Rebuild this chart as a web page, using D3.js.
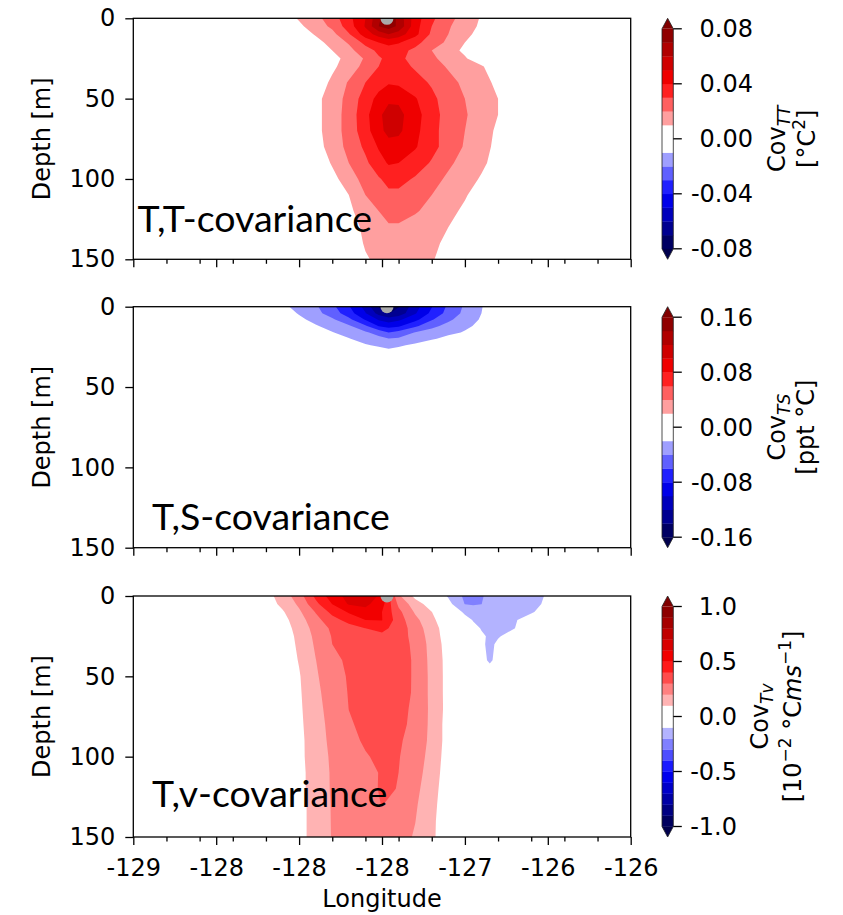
<!DOCTYPE html>
<html>
<head>
<meta charset="utf-8">
<script src="https://cdn.jsdelivr.net/npm/d3@7"></script>
<style>
  body { margin: 0; background: #ffffff; }
  svg { display: block; }
  text { white-space: pre; }
</style>
</head>
<body>
<svg id="fig" width="843" height="915"></svg>
<script>
// ---------------- data ----------------
const xTickValues = [-129, -128.5, -128, -127.5, -127, -126.5, -126];
const xTickLabels = ["-129", "-128", "-128", "-128", "-127", "-126", "-126"];
const xMinorTicks = [-128.8, -128.6, -128.4, -128.2, -127.8, -127.6, -127.4, -127.2, -126.8, -126.6, -126.4, -126.2];
const yTickValues = [0, 50, 100, 150];
const stationLon = -127.47;

// T,T covariance [°C^2] on a longitude x depth grid
const ttLon = [-128.3, -128.1, -128.0, -127.9, -127.8, -127.7, -127.6, -127.52, -127.46, -127.4, -127.3, -127.2, -127.1, -127.0, -126.9, -126.8, -126.7, -126.5];
const ttDepth = [0, 5, 10, 15, 20, 25, 30, 40, 50, 60, 70, 80, 90, 100, 110, 120, 130, 140, 150];
const ttValues = [
  [0, .005, .011, .017, .025, .037, .050, .068, .078, .067, .045, .032, .023, .016, .009, .003, 0, 0],
  [0, .002, .008, .015, .022, .035, .051, .070, .075, .068, .044, .030, .021, .015, .008, .002, 0, 0],
  [0, 0, .004, .011, .017, .029, .045, .054, .060, .055, .043, .028, .020, .013, .006, 0, 0, 0],
  [0, 0, 0, .006, .014, .021, .033, .040, .043, .041, .033, .025, .018, .010, .003, 0, 0, 0],
  [0, 0, 0, .003, .010, .017, .026, .032, .035, .033, .028, .020, .014, .008, .001, 0, 0, 0],
  [0, 0, 0, 0, .006, .014, .021, .029, .032, .032, .027, .022, .016, .011, .004, 0, 0, 0],
  [0, 0, 0, 0, .008, .015, .023, .030, .034, .033, .029, .024, .019, .015, .011, .004, 0, 0],
  [0, 0, 0, .004, .012, .021, .030, .036, .039, .038, .033, .029, .023, .018, .013, .008, .001, 0],
  [0, 0, 0, .007, .015, .023, .035, .043, .048, .048, .041, .032, .026, .020, .015, .010, .002, 0],
  [0, 0, 0, .007, .015, .024, .037, .048, .054, .053, .044, .034, .026, .021, .015, .010, .002, 0],
  [0, 0, 0, .007, .015, .024, .036, .047, .053, .052, .043, .033, .026, .020, .015, .008, .001, 0],
  [0, 0, 0, .006, .014, .023, .032, .041, .046, .046, .041, .033, .026, .019, .014, .007, 0, 0],
  [0, 0, 0, .003, .011, .020, .028, .036, .041, .040, .035, .029, .022, .016, .012, .006, 0, 0],
  [0, 0, 0, 0, .007, .015, .024, .029, .033, .033, .029, .024, .018, .014, .009, .002, 0, 0],
  [0, 0, 0, 0, .003, .010, .020, .024, .028, .028, .024, .020, .016, .011, .005, 0, 0, 0],
  [0, 0, 0, 0, .001, .008, .015, .020, .023, .023, .021, .017, .013, .008, .001, 0, 0, 0],
  [0, 0, 0, 0, 0, .006, .012, .016, .019, .019, .016, .013, .010, .004, 0, 0, 0, 0],
  [0, 0, 0, 0, 0, .004, .011, .013, .015, .016, .014, .012, .008, .001, 0, 0, 0, 0],
  [0, 0, 0, 0, 0, .002, .009, .012, .013, .014, .012, .011, .005, 0, 0, 0, 0, 0]
];
const ttLevels = [-0.08, -0.07, -0.06, -0.05, -0.04, -0.03, -0.02, -0.01, 0.01, 0.02, 0.03, 0.04, 0.05, 0.06, 0.07, 0.08];
const ttCbTicks = [0.08, 0.04, 0, -0.04, -0.08];
const ttCbLabels = ["0.08", "0.04", "0.00", "-0.04", "-0.08"];

// T,S covariance [ppt °C]
const tsLon = [-128.3, -128.1, -128.0, -127.9, -127.8, -127.7, -127.6, -127.52, -127.46, -127.4, -127.3, -127.2, -127.1, -127.0, -126.9, -126.8, -126.7, -126.5];
const tsDepth = [0, 4, 8, 12, 16, 20, 24, 28, 35, 150];
const tsValues = [
  [0, -.015, -.027, -.037, -.055, -.078, -.107, -.141, -.148, -.141, -.108, -.081, -.056, -.037, -.021, -.006, 0, 0],
  [0, -.008, -.022, -.034, -.049, -.071, -.099, -.127, -.141, -.133, -.102, -.075, -.053, -.035, -.020, -.005, 0, 0],
  [0, 0, -.015, -.027, -.037, -.055, -.082, -.102, -.110, -.104, -.086, -.062, -.044, -.030, -.018, -.003, 0, 0],
  [0, 0, -.004, -.018, -.028, -.037, -.057, -.081, -.088, -.083, -.064, -.045, -.034, -.025, -.014, 0, 0, 0],
  [0, 0, 0, -.005, -.019, -.028, -.037, -.048, -.060, -.054, -.039, -.032, -.026, -.018, -.003, 0, 0, 0],
  [0, 0, 0, 0, -.005, -.019, -.028, -.034, -.039, -.037, -.030, -.023, -.013, 0, 0, 0, 0, 0],
  [0, 0, 0, 0, 0, -.003, -.018, -.023, -.026, -.023, -.016, -.001, 0, 0, 0, 0, 0, 0],
  [0, 0, 0, 0, 0, 0, -.005, -.011, -.015, -.012, -.005, 0, 0, 0, 0, 0, 0, 0],
  [0, 0, 0, 0, 0, 0, 0, 0, 0, 0, 0, 0, 0, 0, 0, 0, 0, 0],
  [0, 0, 0, 0, 0, 0, 0, 0, 0, 0, 0, 0, 0, 0, 0, 0, 0, 0]
];
const tsLevels = [-0.16, -0.14, -0.12, -0.10, -0.08, -0.06, -0.04, -0.02, 0.02, 0.04, 0.06, 0.08, 0.10, 0.12, 0.14, 0.16];
const tsCbTicks = [0.16, 0.08, 0, -0.08, -0.16];
const tsCbLabels = ["0.16", "0.08", "0.00", "-0.08", "-0.16"];

// T,v covariance [10^-2 °C m s^-1]
const tvLon = [-128.4, -128.2, -128.1, -128.0, -127.9, -127.8, -127.7, -127.6, -127.5, -127.4, -127.3, -127.2, -127.1, -127.0, -126.95, -126.9, -126.85, -126.8, -126.7, -126.6, -126.5, -126.4];
const tvDepth = [0, 5, 10, 15, 20, 25, 30, 40, 50, 60, 70, 80, 90, 100, 110, 120, 130, 140, 150];
const tvValues = [
  [0, .061, .144, .255, .423, .549, .635, .658, .575, .218, .074, -.010, -.110, -.220, -.245, -.207, -.180, -.155, -.135, -.120, -.094, 0],
  [0, .048, .124, .218, .374, .502, .610, .626, .536, .280, .146, .052, -.069, -.203, -.209, -.201, -.169, -.147, -.134, -.120, -.087, 0],
  [0, .017, .089, .183, .306, .429, .511, .560, .500, .328, .188, .102, -.022, -.116, -.144, -.157, -.149, -.142, -.128, -.112, -.048, 0],
  [0, 0, .067, .154, .267, .362, .435, .500, .503, .349, .226, .128, .013, -.066, -.105, -.117, -.130, -.126, -.112, -.039, 0, 0],
  [0, 0, .054, .136, .238, .318, .360, .401, .428, .357, .253, .144, .045, -.019, -.075, -.105, -.114, -.117, -.102, -.005, 0, 0],
  [0, 0, .046, .124, .223, .306, .329, .353, .376, .340, .271, .152, .051, 0, -.035, -.090, -.109, -.110, -.049, 0, 0, 0],
  [0, 0, .041, .118, .214, .300, .322, .344, .366, .336, .282, .161, .058, 0, -.009, -.080, -.125, -.080, 0, 0, 0, 0],
  [0, 0, .033, .106, .198, .278, .315, .336, .356, .332, .290, .167, .065, 0, 0, -.060, -.120, -.060, 0, 0, 0, 0],
  [0, 0, .020, .092, .187, .260, .309, .330, .351, .329, .291, .171, .065, 0, 0, 0, -.020, 0, 0, 0, 0, 0],
  [0, 0, .015, .087, .176, .249, .305, .326, .346, .327, .291, .171, .065, 0, 0, 0, 0, 0, 0, 0, 0, 0],
  [0, 0, .011, .083, .167, .240, .301, .321, .341, .323, .285, .175, .065, 0, 0, 0, 0, 0, 0, 0, 0, 0],
  [0, 0, .007, .079, .159, .231, .292, .317, .337, .320, .280, .174, .058, 0, 0, 0, 0, 0, 0, 0, 0, 0],
  [0, 0, .002, .074, .154, .224, .279, .310, .327, .312, .264, .174, .058, 0, 0, 0, 0, 0, 0, 0, 0, 0],
  [0, 0, 0, .074, .151, .215, .254, .294, .316, .305, .249, .166, .051, 0, 0, 0, 0, 0, 0, 0, 0, 0],
  [0, 0, 0, .070, .146, .211, .245, .280, .306, .300, .238, .155, .045, 0, 0, 0, 0, 0, 0, 0, 0, 0],
  [0, 0, 0, .070, .146, .210, .240, .271, .310, .298, .225, .143, .038, 0, 0, 0, 0, 0, 0, 0, 0, 0],
  [0, 0, 0, .066, .141, .207, .234, .261, .303, .265, .212, .133, .031, 0, 0, 0, 0, 0, 0, 0, 0, 0],
  [0, 0, 0, .066, .141, .206, .229, .253, .276, .245, .202, .125, .025, 0, 0, 0, 0, 0, 0, 0, 0, 0],
  [0, 0, 0, .066, .141, .205, .226, .246, .266, .236, .191, .122, .025, 0, 0, 0, 0, 0, 0, 0, 0, 0]
];
const tvLevels = [-1.0, -0.9, -0.8, -0.7, -0.6, -0.5, -0.4, -0.3, -0.2, -0.1, 0.1, 0.2, 0.3, 0.4, 0.5, 0.6, 0.7, 0.8, 0.9, 1.0];
const tvCbTicks = [1.0, 0.5, 0, -0.5, -1.0];
const tvCbLabels = ["1.0", "0.5", "0.0", "-0.5", "-1.0"];

// ---------------- layout ----------------
const NUM_FONT = "'DejaVu Sans', sans-serif";
const TITLE_FONT = "Lato, 'Open Sans', sans-serif";
const plotLeft = 133.3, plotRight = 630.7, plotH = 241;
const panelTops = [18.3, 306.7, 596];
const cbX = 662, cbW = 11.3;

const panels = [
  { lon: ttLon, depth: ttDepth, values: ttValues, levels: ttLevels,
    cbTicks: ttCbTicks, cbLabels: ttCbLabels, cbLabelEnd: 753,
    title: "T,T-covariance", titleX: 137.5, titleY: 231.5,
    sub: "TT", lab1X: 784.5, lab2X: 815,
    unit: [{ t: "[°C" }, { t: "2", sup: true }, { t: "]" }] },
  { lon: tsLon, depth: tsDepth, values: tsValues, levels: tsLevels,
    cbTicks: tsCbTicks, cbLabels: tsCbLabels, cbLabelEnd: 753,
    title: "T,S-covariance", titleX: 152, titleY: 530,
    sub: "TS", lab1X: 784.5, lab2X: 814,
    unit: [{ t: "[ppt °C]" }] },
  { lon: tvLon, depth: tvDepth, values: tvValues, levels: tvLevels,
    cbTicks: tvCbTicks, cbLabels: tvCbLabels, cbLabelEnd: 737,
    title: "T,v-covariance", titleX: 152, titleY: 806.5,
    sub: "Tv", lab1X: 768, lab2X: 801,
    unit: [{ t: "[10" }, { t: "\u22122", sup: true }, { t: " °C" }, { t: "ms", it: true }, { t: "\u22121", sup: true }, { t: "]" }] }
];

// diverging colormap (blue - white - red)
const seismic = d3.scaleLinear()
  .domain([0, 0.25, 0.5, 0.75, 1])
  .range(["#00004d", "#0000ff", "#ffffff", "#ff0000", "#800000"]);

const svg = d3.select("#fig");
const defs = svg.append("defs");
const x = d3.scaleLinear().domain([-129, -126]).range([plotLeft, plotRight]);

function bandColor(levels, a, b) {
  const lo = levels[0], hi = levels[levels.length - 1];
  return seismic(((a + b) / 2 - lo) / (hi - lo));
}

function drawField(g, p, y) {
  const n = p.lon.length, m = p.depth.length;
  const flat = p.values.flat();
  const neg = flat.map(v => -v);
  const iLon = d3.scaleLinear().domain(d3.range(n)).range(p.lon).clamp(true);
  const iDep = d3.scaleLinear().domain(d3.range(m)).range(p.depth).clamp(true);
  const proj = d3.geoTransform({
    point(cx, cy) { this.stream.point(x(iLon(cx - 0.5)), y(iDep(cy - 0.5))); }
  });
  const path = d3.geoPath(proj);
  const gen = d3.contours().size([n, m]).smooth(true);
  const lv = p.levels;
  const over = seismic(1), under = seismic(0);

  // positive bands, from the lowest positive level upward
  const pos = lv.filter(v => v > 0);
  pos.forEach((t, k) => {
    const fill = k < pos.length - 1 ? bandColor(lv, t, pos[k + 1]) : over;
    g.append("path").attr("d", path(gen.contour(flat, t))).attr("fill", fill);
  });
  // negative bands, from the level nearest zero downward
  const negs = lv.filter(v => v < 0).sort((a, b) => b - a);
  negs.forEach((t, k) => {
    const fill = k < negs.length - 1 ? bandColor(lv, negs[k + 1], t) : under;
    g.append("path").attr("d", path(gen.contour(neg, -t))).attr("fill", fill);
  });
}

function styleAxis(ax) {
  ax.attr("font-family", NUM_FONT).attr("font-size", 24);
  ax.select(".domain").remove();
  ax.selectAll(".tick line").attr("stroke", "#000").attr("stroke-width", 1.3);
  ax.selectAll(".tick text").attr("fill", "#000");
}

panels.forEach((p, i) => {
  const top = panelTops[i];
  const y = d3.scaleLinear().domain([0, 150]).range([top, top + plotH]);
  const clipId = "plotclip" + i;
  defs.append("clipPath").attr("id", clipId).append("rect")
    .attr("x", plotLeft).attr("y", top).attr("width", plotRight - plotLeft).attr("height", plotH);

  const g = svg.append("g").attr("clip-path", `url(#${clipId})`);
  g.append("rect").attr("x", plotLeft).attr("y", top)
    .attr("width", plotRight - plotLeft).attr("height", plotH)
    .attr("fill", seismic(0.5));
  drawField(g, p, y);

  // station marker at the surface
  g.append("circle").attr("cx", x(stationLon)).attr("cy", y(0)).attr("r", 6.5).attr("fill", "#aaaaaa");

  // panel caption
  svg.append("text").attr("x", p.titleX).attr("y", p.titleY)
    .attr("font-family", TITLE_FONT).attr("font-size", 37.5).attr("fill", "#000")
    .text(p.title);

  // frame
  svg.append("rect").attr("x", plotLeft).attr("y", top)
    .attr("width", plotRight - plotLeft).attr("height", plotH)
    .attr("fill", "none").attr("stroke", "#000").attr("stroke-width", 1.3);

  // y axis
  const ya = svg.append("g").attr("transform", `translate(${plotLeft},0)`)
    .call(d3.axisLeft(y).tickValues(yTickValues).tickSize(8).tickPadding(10).tickFormat(d3.format("d")));
  styleAxis(ya);

  svg.append("text")
    .attr("transform", `translate(49.5,${top + plotH / 2}) rotate(-90)`)
    .attr("text-anchor", "middle").attr("font-family", NUM_FONT).attr("font-size", 24)
    .attr("fill", "#000").text("Depth [m]");

  // x axis (labels on the bottom panel only)
  const last = i === panels.length - 1;
  const xa = svg.append("g").attr("transform", `translate(0,${top + plotH})`)
    .call(d3.axisBottom(x).tickValues(xTickValues).tickSize(8).tickPadding(14)
      .tickFormat((d, k) => last ? xTickLabels[k] : ""));
  styleAxis(xa);
  const xm = svg.append("g").attr("transform", `translate(0,${top + plotH})`)
    .call(d3.axisBottom(x).tickValues(xMinorTicks).tickSize(4.5).tickFormat(""));
  styleAxis(xm);

  // colorbar
  const cTop = top + 10.5, cBot = top + 230.5;
  const lv = p.levels;
  const cy = d3.scaleLinear().domain([lv[0], lv[lv.length - 1]]).range([cBot, cTop]);
  const cb = svg.append("g");
  d3.pairs(lv).forEach(([a, b]) => {
    cb.append("rect").attr("x", cbX).attr("y", cy(b)).attr("width", cbW)
      .attr("height", cy(a) - cy(b) + 0.3).attr("fill", bandColor(lv, a, b));
  });
  cb.append("path").attr("d", `M${cbX},${cTop}L${cbX + cbW / 2},${top}L${cbX + cbW},${cTop}Z`).attr("fill", seismic(1));
  cb.append("path").attr("d", `M${cbX},${cBot}L${cbX + cbW / 2},${top + plotH}L${cbX + cbW},${cBot}Z`).attr("fill", seismic(0));
  cb.append("path")
    .attr("d", `M${cbX},${cTop}L${cbX + cbW / 2},${top}L${cbX + cbW},${cTop}L${cbX + cbW},${cBot}L${cbX + cbW / 2},${top + plotH}L${cbX},${cBot}Z`)
    .attr("fill", "none").attr("stroke", "#222").attr("stroke-width", 0.8);
  p.cbTicks.forEach((t, k) => {
    cb.append("line").attr("x1", cbX + cbW).attr("x2", cbX + cbW + 8.5)
      .attr("y1", cy(t)).attr("y2", cy(t)).attr("stroke", "#000").attr("stroke-width", 1.3);
    cb.append("text").attr("x", p.cbLabelEnd).attr("y", cy(t)).attr("dy", "0.36em")
      .attr("text-anchor", "end").attr("font-family", NUM_FONT).attr("font-size", 24)
      .attr("fill", "#000").text(p.cbLabels[k]);
  });

  // colorbar label (two lines, rotated)
  const mid = top + plotH / 2;
  const l1 = svg.append("text")
    .attr("transform", `translate(${p.lab1X},${mid}) rotate(-90)`)
    .attr("text-anchor", "middle").attr("font-family", NUM_FONT).attr("font-size", 24).attr("fill", "#000");
  l1.append("tspan").text("Cov");
  l1.append("tspan").attr("font-size", 17).attr("font-style", "italic").attr("dy", 5).text(p.sub);

  const l2 = svg.append("text")
    .attr("transform", `translate(${p.lab2X},${mid}) rotate(-90)`)
    .attr("text-anchor", "middle").attr("font-family", NUM_FONT).attr("font-size", 24).attr("fill", "#000");
  let raised = false;
  p.unit.forEach(s => {
    const ts = l2.append("tspan").text(s.t);
    if (s.sup) { ts.attr("font-size", 17).attr("dy", raised ? 0 : -10); raised = true; }
    else { if (raised) ts.attr("dy", 10); raised = false; }
    if (s.it) ts.attr("font-style", "italic");
  });
});

// shared x-axis title
svg.append("text").attr("x", (plotLeft + plotRight) / 2).attr("y", 907)
  .attr("text-anchor", "middle").attr("font-family", NUM_FONT).attr("font-size", 24)
  .attr("fill", "#000").text("Longitude");
</script>
</body>
</html>
